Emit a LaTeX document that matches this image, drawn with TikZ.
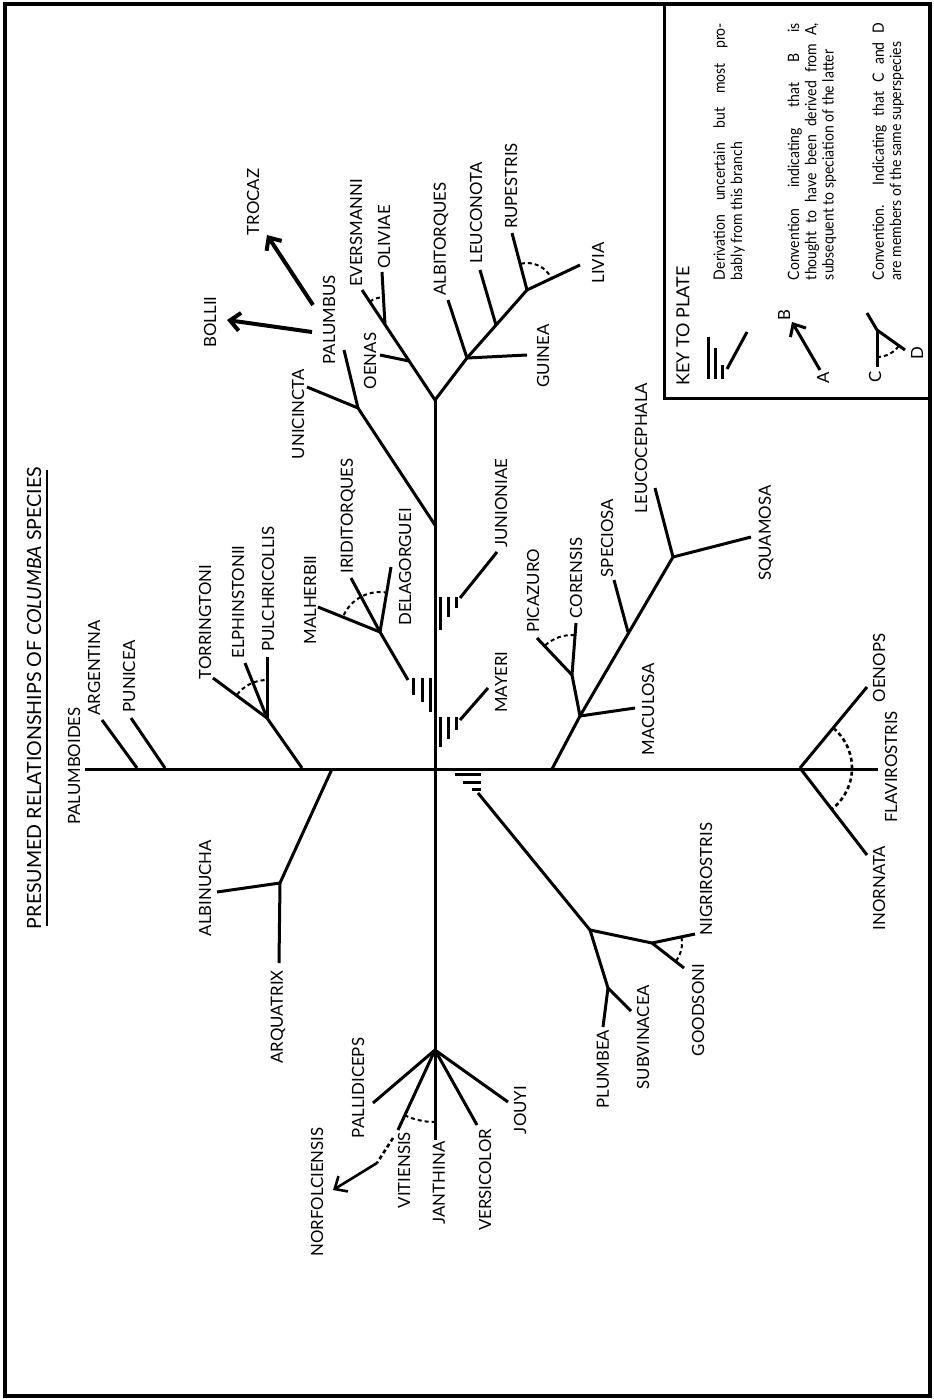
\documentclass[tikz,border=0pt]{standalone}
\usepackage{fontspec}
\setmainfont{Lato}
\newfontfamily\keyfont[FakeStretch=0.9]{Lato}
\usetikzlibrary{arrows.meta,calc}

\tikzset{
  branch/.style={line width=1.5pt},
  sp/.style={rotate=90, inner sep=0pt, font=\fontsize{8.4}{10}\selectfont},
  tie/.style={line width=1pt, dash pattern=on 2pt off 1.5pt},
  arr/.style={line width=2pt, -{Straight Barb[length=5pt,width=9pt]}},
  keytxt/.style={rotate=90, inner sep=0pt, text width=128.5pt, align=justify,
    font=\keyfont\fontsize{7.8}{8.6}\selectfont},
}

\begin{document}
\begin{tikzpicture}[x=0.5pt, y=-0.5pt]
  \useasboundingbox (0,0) rectangle (933,1399);
  % frame and key box
  \draw[line width=2pt] (5,4) rectangle (930,1396);
  \draw[line width=1.5pt] (664,4) |- (930,398);

  % title
  \node[rotate=90, inner sep=0pt, font=\fontsize{9.8}{12}\selectfont] (title) at (34,698)
    {PRESUMED RELATIONSHIPS OF \textit{COLUMBA} SPECIES};
  \draw[line width=1pt] (47,470) -- (47,926);

  % junctions and tips
  \foreach \n/\x/\y in {hl/85/769, hr/878/769, vt/435/400, fan/435/1050,
      ev/362/290, j1/409/361, j2/385/325, oe/380/355, ol/382/272,
      j3/467/358, j4/527/290, j5/496/325, albi/448/300, guin/527/355,
      leuc/480/270, rupe/512/233, livi/580/265,
      ja/435/525, jb/358/408, unic/307/387, palu/344/350,
      t0/302/768, t1/267/718, torr/213/678, elph/245/663, pulc/267/657,
      g0/137/768, g1/102/720, p0/165/768, p1/131/718,
      m0/408/680, m1/380/632, malh/318/607, irid/351/578, dela/391/567,
      y0/460/720, y1/488/688, u0/460/598, u1/497/552,
      k0/478/793, k1/590/930, k2/652/943, k3/608/988,
      nigr/695/934, good/684/968, plum/603/1027, subv/631/1011,
      a0/332/769, a1/280/883, albn/217/892, arqu/279/963,
      pall/373/1103, viti/398/1130, jant/435/1140, vers/477/1125, jouy/508/1102,
      r0/552/769, r1/580/716, r2/572/675, r3/628/632, r4/673/557,
      macu/635/708, pica/537/638, core/576/623, spec/614/580,
      leuc2/655/488, squa/751/537,
      f0/800/768, oeno/867/687, inor/867/855}
    \coordinate (\n) at (\x,\y);

  % branches
  \draw[branch] (hl) -- (hr);
  \draw[branch] (vt) -- (fan) -- (jant);
  \foreach \a/\b in {vt/ev, j1/oe, j2/ol, vt/j3, j3/j4, j4/rupe, j4/livi,
      j3/albi, j3/guin, j5/leuc, ja/jb, jb/unic, jb/palu,
      t0/t1, t1/torr, t1/elph, t1/pulc, g0/g1, p0/p1,
      m0/m1, m1/malh, m1/irid, m1/dela, y0/y1, u0/u1,
      k0/k1, k1/k2, k2/nigr, k2/good, k1/k3, k3/plum, k3/subv,
      a0/a1, a1/albn, a1/arqu,
      fan/pall, fan/viti, fan/vers, fan/jouy,
      r0/r1, r1/macu, r1/r2, r2/pica, r2/core, r1/r4, r3/spec, r4/leuc2, r4/squa,
      f0/oeno, f0/inor}
    \draw[branch] (\a) -- (\b);

  % uncertain derivation marks
  \foreach \x/\b in {413/695, 422/702, 430/712}
    \draw[branch] (\x,678) -- (\x,\b);
  \foreach \x/\b in {440/747, 448/739, 456/730}
    \draw[branch] (\x,717) -- (\x,\b);
  \foreach \x/\b in {440/630, 448/617, 456/608}
    \draw[branch] (\x,597) -- (\x,\b);
  \foreach \y/\a in {774/455, 782/463, 789/472}
    \draw[branch] (\a,\y) -- (481,\y);

  % superspecies ties
  \draw[tie] (j2) ++(123:14pt) arc[start angle=123, end angle=92, radius=14pt];
  \draw[tie] (j4) ++(103:13.5pt) arc[start angle=103, end angle=27, radius=13.5pt];
  \draw[tie] (t1) ++(142:19pt) arc[start angle=142, end angle=92, radius=19pt];
  \draw[tie] (m1) ++(155:20pt) arc[start angle=155, end angle=82, radius=20pt];
  \draw[tie] (r2) ++(132:20pt) arc[start angle=132, end angle=87, radius=20pt];
  \draw[tie] (k2) ++(11:15pt) arc[start angle=11, end angle=-37, radius=15pt];
  \draw[tie] (fan) ++(-115:36pt) arc[start angle=-115, end angle=-90, radius=36pt];
  \draw[tie, line width=1.3pt] (f0) ++(50:26pt) arc[start angle=50, end angle=-52, radius=26pt];

  % derived species
  \draw[arr] (313,305) -- (267,235);
  \draw[arr] (312,332) -- (227,320);
  \draw[tie, line width=1.3pt] (393,1138) -- (377,1163);
  \draw[arr, line width=1.3pt] (377,1163) -- (333,1190);

  % species names
  \foreach \n/\x/\y in {PALUMBOIDES/74/766, ARGENTINA/94/668, PUNICEA/129/676,
      TORRINGTONI/205/622, ELPHINSTONII/238/602, PULCHRICOLLIS/268/589,
      MALHERBII/310/600, IRIDITORQUES/348/516, DELAGORGUEI/405/567,
      UNICINCTA/298/414, PALUMBUS/329/320, BOLLII/210/322, TROCAZ/253/202,
      OENAS/370/361, EVERSMANNI/356/233, OLIVIAE/384/237, ALBITORQUES/441/239,
      LEUCONOTA/476/213, RUPESTRIS/511/186, LIVIA/598/263, GUINEA/543/356,
      JUNIONIAE/501/503, MAYERI/501/682, PICAZURO/533/591, CORENSIS/576/578,
      SPECIOSA/607/538, LEUCOCEPHALA/641/448, MACULOSA/648/709, SQUAMOSA/766/533,
      OENOPS/879/668, FLAVIROSTRIS/891/767, INORNATA/879/888,
      NIGRIROSTRIS/706/879, GOODSONI/698/1010, PLUMBEA/603/1069,
      SUBVINACEA/643/1037, ALBINUCHA/205/888, ARQUATRIX/278/1017,
      PALLIDICEPS/358/1088, VITIENSIS/404/1170, JANTHINA/439/1183,
      NORFOLCIENSIS/317/1192, VERSICOLOR/485/1180, JOUYI/520/1110}
    \node[sp] (\n) at (\x,\y) {\n};

  % key to plate
  \node[sp, font=\fontsize{9}{10}\selectfont] (keyhead) at (683,326) {KEY TO PLATE};
  \foreach \x/\t in {708/337, 715/348, 722/365}
    \draw[branch] (\x,\t) -- (\x,379);
  \draw[branch] (727,369) -- (747,332);
  \node[keytxt] (key1) at (729,151.5)
    {Derivation uncertain but most pro-\linebreak bably from this branch};

  \node[sp] (A) at (823,378) {A};
  \node[sp] (B) at (784,315) {B};
  \draw[arr, line width=1.5pt] (820,370) -- (792,322);
  \node[keytxt] (key2) at (812,151.5)
    {Convention indicating that B is\linebreak thought to have been derived from A,\linebreak
     subsequent to speciation of the latter};

  \coordinate (kc) at (877,330);
  \node[sp] (C) at (875,377) {C};
  \node[sp] (D) at (917,353) {D};
  \draw[branch] (867,313) -- (kc) -- (905,350);
  \draw[branch] (kc) -- (877,367);
  \draw[tie] (kc) ++(-90:13.5pt) arc[start angle=-90, end angle=-36, radius=13.5pt];
  \node[keytxt] (key3) at (888,151.5)
    {Convention. Indicating that C and D\linebreak are members of the same superspecies};
\end{tikzpicture}
\end{document}
